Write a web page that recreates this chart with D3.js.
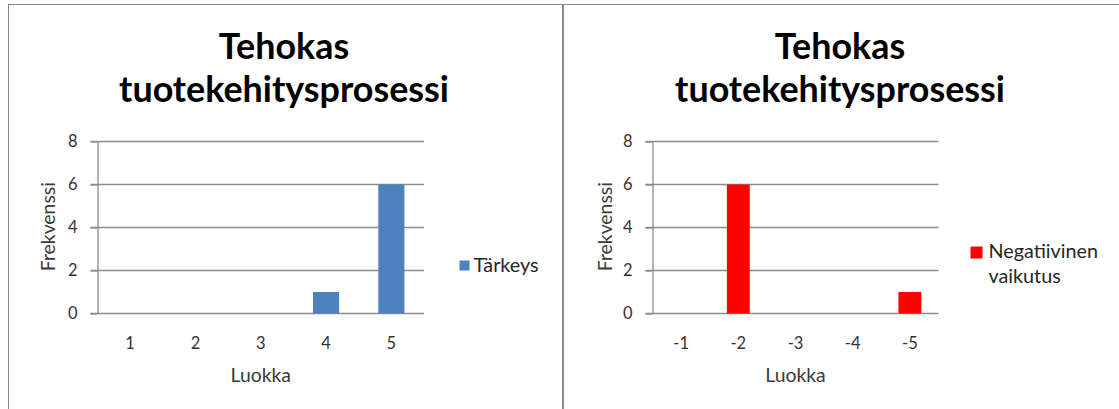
<!DOCTYPE html>
<html><head><meta charset="utf-8">
<script src="https://cdn.jsdelivr.net/npm/d3@7"></script>
<style>html,body{margin:0;padding:0;background:#fff;overflow:hidden}</style>
</head><body>
<svg id="c" width="1119" height="409"></svg>
<script>
// ---- data ----
const titleLines = ["Tehokas", "tuotekehitysprosessi"];
const xTitle = "Luokka";
const yTitle = "Frekvenssi";
const yTicks = [0, 2, 4, 6, 8];
const catsA = ["1", "2", "3", "4", "5"];
const valsA = [0, 0, 0, 1, 6];
const legendA = ["Tärkeys"];
const catsB = ["-1", "-2", "-3", "-4", "-5"];
const valsB = [0, 6, 0, 0, 1];
const legendB = ["Negatiivinen", "vaikutus"];

const FONT = "Lato, 'Open Sans', 'DejaVu Sans', sans-serif";
const svg = d3.select("#c");

function measure(txt, weight) {
  const t = svg.append("text").attr("font-family", FONT).attr("font-size", 100)
    .attr("font-weight", weight).text(txt);
  const w = t.node().getComputedTextLength();
  t.remove();
  return w;
}

function draw() {
  svg.append("rect").attr("width", 1119).attr("height", 409).attr("fill", "#fff");

  const titleSize = 100 * 330 / measure(titleLines[1], 700);
  const axTitleSize = (100 * 60 / measure(xTitle, 400) + 100 * 90 / measure(yTitle, 400)) / 2;
  const legSize = (100 * 66 / measure(legendA[0], 400) + 100 * 108 / measure(legendB[0], 400)) / 2;
  const tickFont = 16.5;

  const panels = [
    { frame: [8.5, 4.5, 554, 420], x0: 97.5, x1: 424, titleCx: 284, yTitleX: 48.5,
      cats: catsA, vals: valsA, color: "#4F81BD", legend: legendA,
      sq: [459.5, 260.5, 10], legX: 473.5, legY: [265.5], legBase: "central" },
    { frame: [563.5, 4.5, 600, 420], x0: 652.5, x1: 938.5, titleCx: 840, yTitleX: 605,
      cats: catsB, vals: valsB, color: "#FF0000", legend: legendB,
      sq: [970.5, 246.5, 12], legX: 988.5, legY: [258.3, 283.3], legBase: "alphabetic" }
  ];

  const y = d3.scaleLinear().domain([0, 8]).range([313.5, 141.5]);

  panels.forEach(p => {
    const g = svg.append("g");
    g.append("rect").attr("x", p.frame[0]).attr("y", p.frame[1])
      .attr("width", p.frame[2]).attr("height", p.frame[3])
      .attr("fill", "none").attr("stroke", "#8a8a8a").attr("stroke-width", 1);

    // title
    g.append("text").attr("x", p.titleCx).attr("y", 59).attr("text-anchor", "middle")
      .attr("font-family", FONT).attr("font-weight", 700).attr("font-size", titleSize)
      .attr("fill", "#000").text(titleLines[0]);
    g.append("text").attr("x", p.titleCx).attr("y", 102).attr("text-anchor", "middle")
      .attr("font-family", FONT).attr("font-weight", 700).attr("font-size", titleSize)
      .attr("fill", "#000").text(titleLines[1]);

    const x = d3.scaleBand().domain(p.cats).range([p.x0, p.x1])
      .paddingInner(0.6).paddingOuter(0.3);

    // gridlines
    g.append("g").selectAll("line").data(yTicks).join("line")
      .attr("x1", p.x0 - 7).attr("x2", p.x1)
      .attr("y1", d => y(d)).attr("y2", d => y(d))
      .attr("stroke", "#8c8c8c").attr("stroke-width", 1.3);

    // y axis
    const ya = g.append("g").attr("transform", `translate(${p.x0},0)`)
      .call(d3.axisLeft(y).tickValues(yTicks).tickFormat(d3.format("d"))
        .tickSize(7).tickPadding(13).tickSizeOuter(0));
    ya.select(".domain").attr("stroke", "#8c8c8c").attr("stroke-width", 1.3);
    ya.selectAll(".tick line").attr("stroke", "#8c8c8c").attr("stroke-width", 1.3);
    ya.selectAll("text").attr("font-family", FONT).attr("font-size", tickFont)
      .attr("fill", "#333");

    // bars
    g.append("g").selectAll("rect").data(p.cats.map((c, i) => ({ c, v: p.vals[i] })))
      .join("rect")
      .attr("x", d => x(d.c)).attr("width", x.bandwidth())
      .attr("y", d => y(d.v)).attr("height", d => y(0) - y(d.v))
      .attr("fill", p.color);

    // x axis
    const xa = g.append("g").attr("transform", `translate(0,${y(0)})`)
      .call(d3.axisBottom(x).tickSize(0).tickSizeOuter(0));
    xa.select(".domain").remove();
    xa.selectAll("text").attr("y", 29.5).attr("dy", "0.35em")
      .attr("font-family", FONT).attr("font-size", tickFont).attr("fill", "#333");

    // axis titles
    g.append("text").attr("x", (p.x0 + p.x1) / 2).attr("y", 375.5)
      .attr("dy", "0.35em").attr("text-anchor", "middle")
      .attr("font-family", FONT).attr("font-size", axTitleSize).attr("fill", "#3a3a3a")
      .text(xTitle);
    g.append("text").attr("transform", `translate(${p.yTitleX},226.7) rotate(-90)`)
      .attr("dy", "0.35em").attr("text-anchor", "middle")
      .attr("font-family", FONT).attr("font-size", axTitleSize).attr("fill", "#3a3a3a")
      .text(yTitle);

    // legend
    g.append("rect").attr("x", p.sq[0]).attr("y", p.sq[1])
      .attr("width", p.sq[2]).attr("height", p.sq[2]).attr("fill", p.color);
    p.legend.forEach((t, i) => {
      g.append("text").attr("x", p.legX).attr("y", p.legY[i])
        .attr("dy", p.legBase === "central" ? "0.35em" : 0)
        .attr("font-family", FONT).attr("font-size", legSize).attr("fill", "#262626")
        .text(t);
    });
  });
}

if (document.fonts && document.fonts.ready) document.fonts.ready.then(draw); else draw();
</script>
</body></html>
